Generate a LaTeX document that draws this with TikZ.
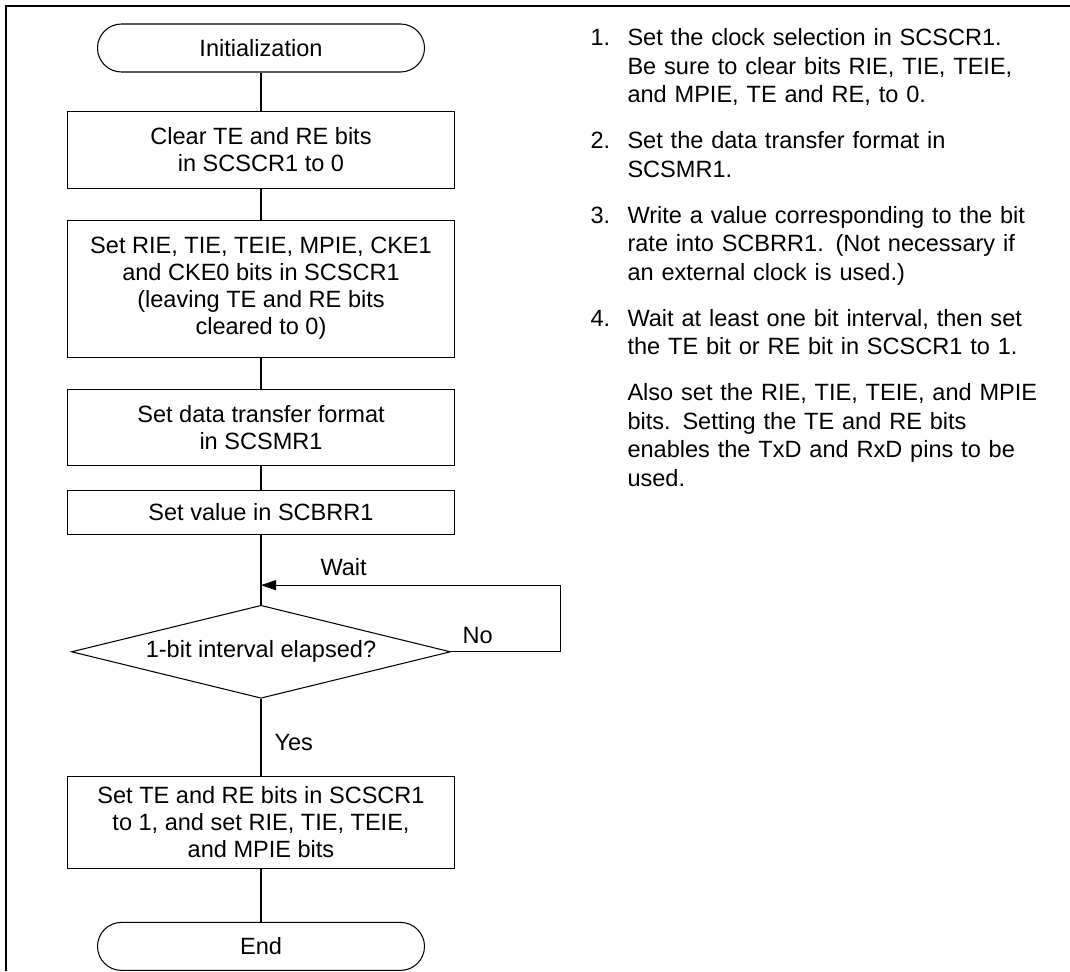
\documentclass[tikz,border=0pt]{standalone}
\usepackage{fontspec}
\setmainfont{Liberation Sans}
\usetikzlibrary{positioning,arrows.meta,shapes.geometric,calc}

\newcommand{\flowfont}{\fontsize{13.4}{15.4}\selectfont}
\newcommand{\notefont}{\fontsize{13.4}{16.2}\selectfont}

\begin{document}
\begin{tikzpicture}[
    font=\flowfont,
    line width=0.6pt,
    terminal/.style={draw, rounded corners=0.48cm, minimum width=6.54cm, minimum height=0.96cm, inner sep=0pt},
    procbox/.style={draw, minimum width=7.74cm, minimum height=#1, align=center, inner sep=0pt},
    decision/.style={draw, diamond, aspect=4, minimum width=7.58cm, minimum height=1.86cm, inner sep=0pt},
    lbl/.style={inner sep=0pt},
    note/.style={inner sep=0pt, text width=8.8cm, align=left, font=\notefont},
    numlbl/.style={inner sep=0pt, font=\notefont},
]
    \useasboundingbox (0,0) rectangle (21.4,-19.42);
    % page frame (top and left edges only)
    \draw[line width=1.1pt] (0.12,-19.42) |- (21.4,-0.12);

    % flowchart
    \node[terminal] (init) at (5.22,-0.96) {Initialization};
    \node[procbox=1.54cm, below=0.76cm of init] (clr) {Clear TE and RE bits\\in SCSCR1 to 0};
    \node[procbox=2.74cm, below=0.62cm of clr] (setie) {Set RIE, TIE, TEIE, MPIE, CKE1\\and CKE0 bits in SCSCR1\\(leaving TE and RE bits\\cleared to 0)};
    \node[procbox=1.52cm, below=0.62cm of setie] (fmt) {Set data transfer format\\in SCSMR1};
    \node[procbox=0.88cm, below=0.48cm of fmt] (brr) {Set value in SCBRR1};
    \node[decision, below=1.40cm of brr] (chk) {1-bit interval elapsed?};
    \node[procbox=1.84cm, below=1.54cm of chk] (txrx) {Set TE and RE bits in SCSCR1\\to 1, and set RIE, TIE, TEIE,\\and MPIE bits};
    \node[terminal, below=1.06cm of txrx] (done) {End};

    \foreach \a/\b in {init/clr, clr/setie, setie/fmt, fmt/brr, brr/chk, chk/txrx, txrx/done} {
        \draw (\a.south) -- (\b.north);
    }

    % wait loop
    \coordinate (waitpt) at ($(brr.south)!0.72!(chk.north)$);
    \draw[-{Triangle[length=0.3cm, width=0.2cm]}] (chk.east) -- ++(2.19,0) |- (waitpt);
    \node[lbl, anchor=base west] (waitlbl) at ([xshift=1.18cm, yshift=0.19cm]waitpt) {Wait};
    \node[lbl, anchor=base west] (nolbl) at ([xshift=0.22cm, yshift=0.17cm]chk.east) {No};
    \node[lbl, anchor=base west] (yeslbl) at ([xshift=0.26cm, yshift=-1.03cm]chk.south) {Yes};

    % notes
    \node[note, anchor=north west] (txt1) at (12.54,-0.51) {\strut Set the clock selection in SCSCR1.\\Be sure to clear bits RIE, TIE, TEIE,\\and MPIE, TE and RE, to 0.\strut};
    \node[note, below=0.33cm of txt1] (txt2) {\strut Set the data transfer format in\\SCSMR1.\strut};
    \node[note, below=0.33cm of txt2] (txt3) {\strut Write a value corresponding to the bit\\rate into SCBRR1. (Not necessary if\\an external clock is used.)\strut};
    \node[note, below=0.33cm of txt3] (txt4) {\strut Wait at least one bit interval, then set\\the TE bit or RE bit in SCSCR1 to 1.\strut};
    \node[note, below=0.33cm of txt4] (txt5) {\strut Also set the RIE, TIE, TEIE, and MPIE\\bits. Setting the TE and RE bits\\enables the TxD and RxD pins to be\\used.\strut};

    \foreach \i in {1,...,4} {
        \node[numlbl, anchor=north west] (num\i) at ([xshift=-0.74cm]txt\i.north west) {\strut\i.};
    }
\end{tikzpicture}
\end{document}
